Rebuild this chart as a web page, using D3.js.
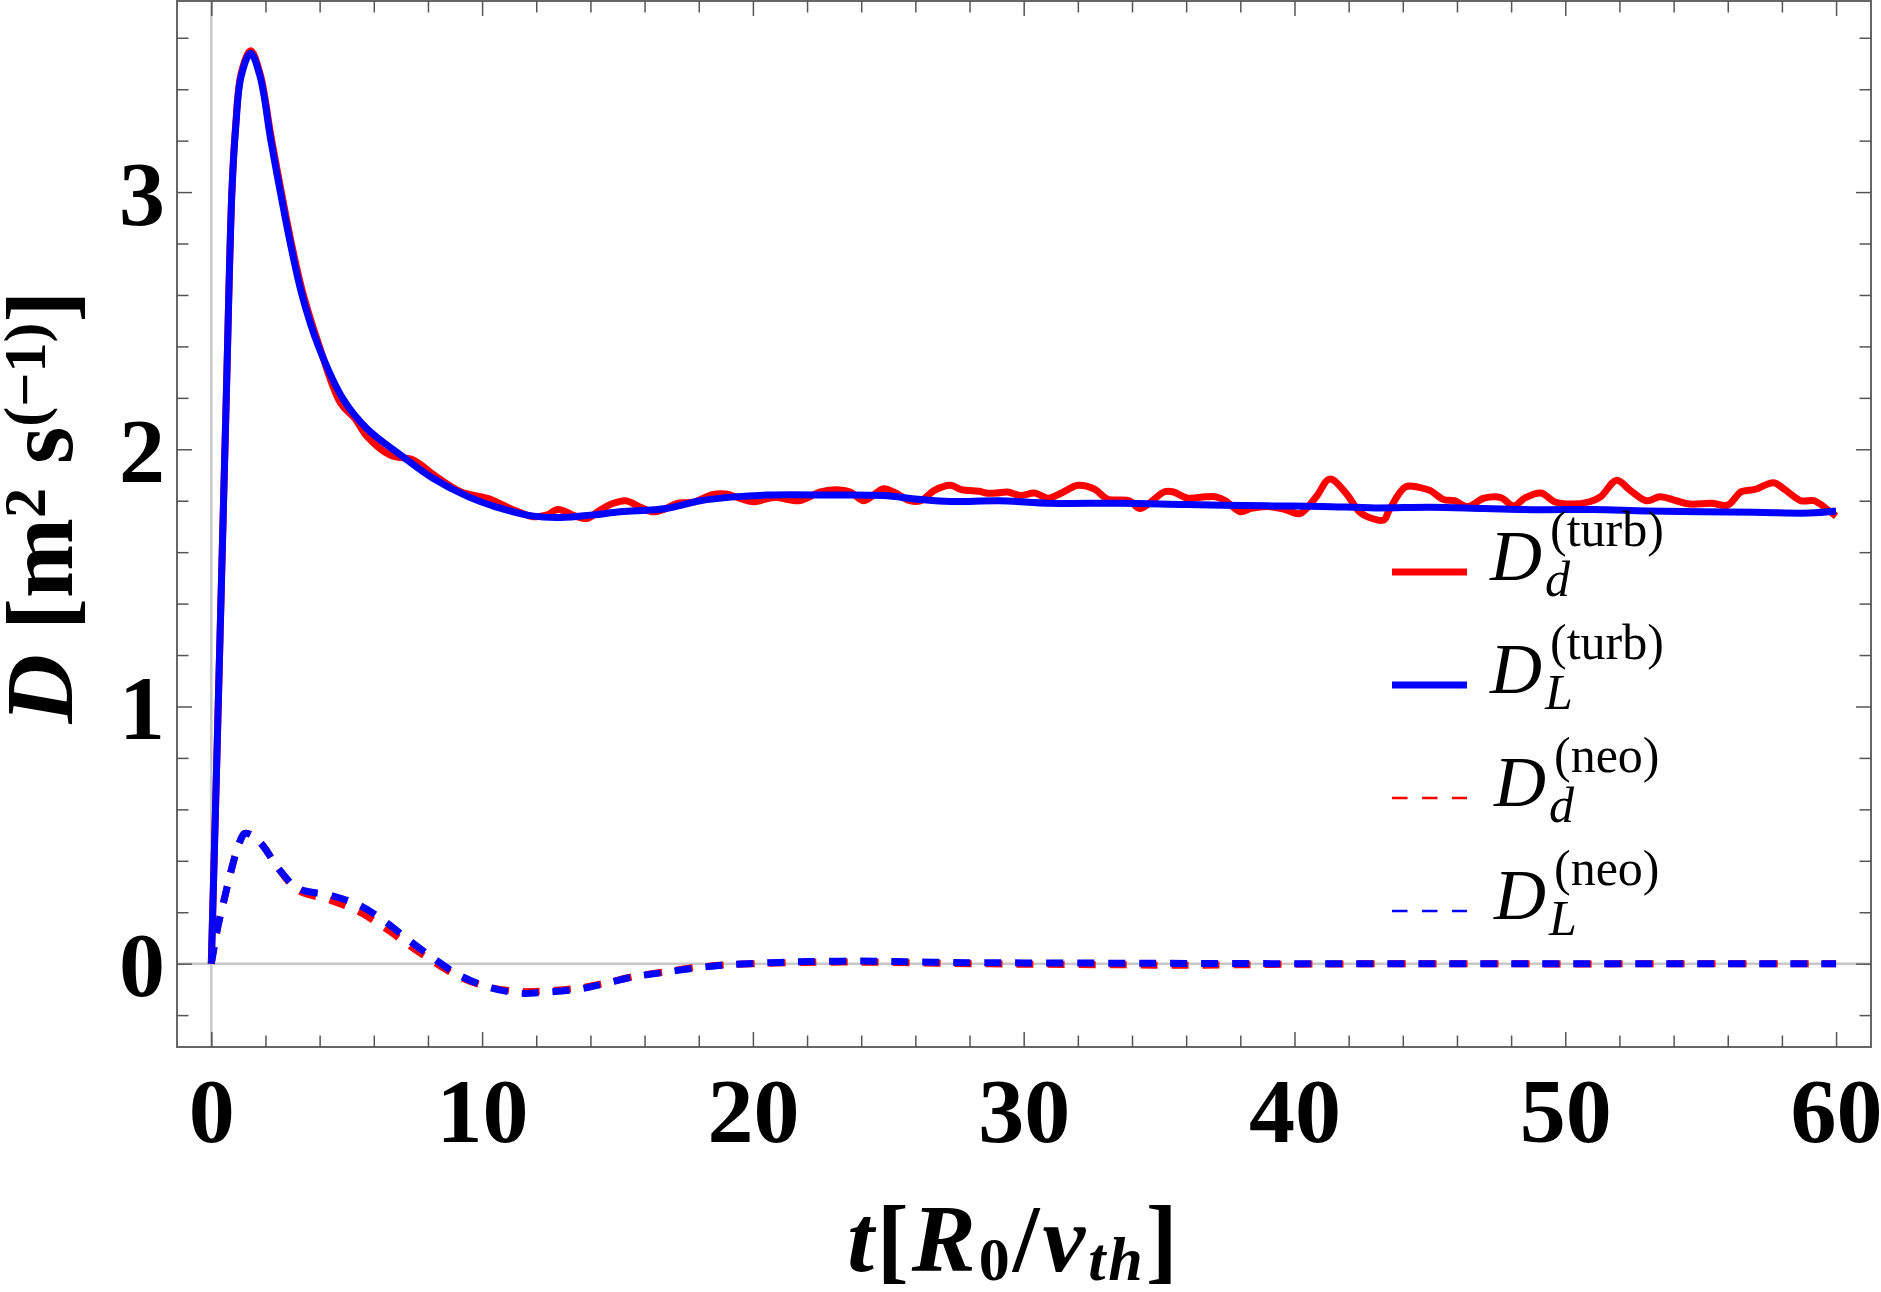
<!DOCTYPE html>
<html>
<head>
<meta charset="utf-8">
<script src="https://cdn.jsdelivr.net/npm/d3@7"></script>
<style>
  html, body { margin: 0; padding: 0; background: #fff; }
  svg { display: block; font-family: "Liberation Serif", "Times New Roman", serif; }
</style>
</head>
<body>
<svg id="chart" width="1881" height="1292"></svg>
<script>
// Turbulent diffusion D_L (blue, solid)
const tTurbL = [0, 0.2, 0.55, 0.76, 0.9, 1.1, 1.45, 1.8, 2.2, 2.55, 2.92, 3.35, 3.96, 4.9, 5.75, 7.0, 8.2,
    9.5, 10.7, 11.9, 12.9, 14.1, 15.1, 16.8, 18.05, 19.3, 20.5, 23.0, 24.8, 26.1, 27.3, 29.1, 31.0, 33.6,
    36, 39, 41, 43, 45, 47, 49, 51, 53, 55, 57, 59, 60];
const turbL = [0, 0.78, 2.19, 3.0, 3.25, 3.45, 3.54, 3.45, 3.2, 3.0, 2.8, 2.6, 2.4, 2.19, 2.08, 1.977, 1.886,
    1.815, 1.77, 1.74, 1.735, 1.745, 1.757, 1.77, 1.8, 1.815, 1.822, 1.822, 1.82, 1.806, 1.797, 1.8, 1.79, 1.79,
    1.785, 1.78, 1.778, 1.772, 1.775, 1.77, 1.765, 1.766, 1.76, 1.757, 1.755, 1.752, 1.76];

// Turbulent diffusion D_d (red, solid, noisy)
const tTurbD = [0, 0.2, 0.55, 0.76, 0.9, 1.1, 1.45, 1.8, 2.2, 2.55, 2.92, 3.35, 3.96, 4.77, 5.3, 5.75, 6.61,
    7.47, 8.22, 9.2, 10.2, 11.17, 11.9, 12.4, 12.8, 13.5, 13.9, 14.36, 14.85, 15.3, 15.8, 16.3, 16.8, 17.2,
    17.8, 18.5, 19.0, 19.5, 20.0, 20.8, 21.7, 22.5, 23.1, 23.6, 24.1, 24.8, 25.2, 25.8, 26.2, 26.7, 27.3,
    27.7, 28.4, 28.6, 29.0, 29.4, 29.9, 30.4, 30.9, 31.4, 32.0, 32.6, 33.1, 33.9, 34.3, 35.2, 35.5, 36.06,
    36.7, 37.1, 37.45, 38.0, 38.4, 39.1, 39.7, 40.2, 40.8, 41.3, 41.9, 42.4, 42.9, 43.3, 43.5, 44.1, 44.6,
    45.0, 45.5, 45.9, 46.4, 47.0, 47.6, 48.1, 48.5, 49.1, 49.6, 50.2, 50.9, 51.3, 51.9, 52.4, 53.0, 53.5,
    54.1, 54.6, 55.4, 56.0, 56.5, 57.0, 57.7, 58.1, 58.7, 59.2, 59.7, 60.0];
const turbD = [0, 0.78, 2.19, 3.0, 3.26, 3.46, 3.55, 3.46, 3.22, 3.02, 2.82, 2.62, 2.41, 2.18, 2.12, 2.05, 1.977,
    1.958, 1.9, 1.835, 1.809, 1.764, 1.738, 1.745, 1.766, 1.738, 1.732, 1.764, 1.79, 1.8, 1.777, 1.757, 1.77, 1.79,
    1.794, 1.824, 1.826, 1.81, 1.796, 1.813, 1.8, 1.834, 1.843, 1.834, 1.8, 1.846, 1.834, 1.8, 1.8, 1.84, 1.86,
    1.843, 1.836, 1.83, 1.83, 1.834, 1.82, 1.83, 1.81, 1.83, 1.86, 1.846, 1.806, 1.8, 1.77, 1.835, 1.835, 1.81,
    1.815, 1.815, 1.8, 1.757, 1.77, 1.777, 1.764, 1.75, 1.815, 1.884, 1.83, 1.757, 1.73, 1.725, 1.764, 1.854, 1.852,
    1.84, 1.805, 1.8, 1.777, 1.81, 1.813, 1.78, 1.81, 1.83, 1.796, 1.787, 1.796, 1.815, 1.88, 1.84, 1.8, 1.815,
    1.8, 1.787, 1.79, 1.783, 1.835, 1.844, 1.87, 1.844, 1.8, 1.8, 1.764, 1.74];

// Neoclassical diffusion (dashed)
const tNeo = [0, 0.24, 0.5, 0.77, 1.03, 1.23, 1.49, 1.89, 2.48, 3.21, 4.39, 5.45, 6.44, 7.3, 8.22, 9.14, 10.2,
    11.4, 12.3, 13.5, 14.55, 15.6, 16.65, 17.8, 19, 20.5, 22, 24, 26, 28, 30, 33, 36, 40, 45, 50, 55, 60];
const neoL = [0, 0.143, 0.26, 0.377, 0.468, 0.506, 0.5, 0.461, 0.37, 0.292, 0.266, 0.228, 0.162, 0.091, 0.02,
    -0.044, -0.09, -0.115, -0.111, -0.1, -0.077, -0.051, -0.035, -0.018, -0.005, 0.003, 0.008, 0.01, 0.007,
    0.004, 0.003, 0.002, 0.001, 0, 0, 0, 0, 0];
const neoD = [0, 0.143, 0.26, 0.377, 0.468, 0.506, 0.5, 0.461, 0.37, 0.285, 0.247, 0.202, 0.137, 0.072, 0.007,
    -0.05, -0.09, -0.108, -0.106, -0.096, -0.075, -0.05, -0.033, -0.016, -0.005, 0.001, 0.005, 0.006, 0.003,
    0, -0.002, -0.004, -0.006, -0.002, 0, -0.001, 0, 0];

// Axis ticks
const xMajorTicks = [0, 10, 20, 30, 40, 50, 60];
const yMajorTicks = [0, 1, 2, 3];

// Legend entries
const legendSubs = ["d", "L", "d", "L"];
const legendSups = ["(turb)", "(turb)", "(neo)", "(neo)"];

const red = "#ff0000";
const blue = "#0000ff";

const svg = d3.select("#chart");
const plot = { left: 177, right: 1871, top: 1, bottom: 1047 };

const x = d3.scaleLinear().domain([-1.267, 61.29]).range([plot.left, plot.right]);
const y = d3.scaleLinear().domain([-0.324, 3.743]).range([plot.bottom, plot.top]);

const xMinorTicks = d3.range(0, 61, 2).filter(v => !xMajorTicks.includes(v));
const yMinorTicks = d3.range(-0.2, 3.7, 0.2).map(v => +v.toFixed(1)).filter(v => !yMajorTicks.includes(v));

// Zero lines
svg.append("line")
    .attr("x1", plot.left).attr("x2", plot.right)
    .attr("y1", y(0)).attr("y2", y(0))
    .attr("stroke", "#c8c8c8").attr("stroke-width", 2.5);
svg.append("line")
    .attr("x1", x(0)).attr("x2", x(0))
    .attr("y1", plot.top).attr("y2", plot.bottom)
    .attr("stroke", "#c8c8c8").attr("stroke-width", 2.5);

// Draws one series
function drawSeries(ts, vs, color, dashed) {
    const pts = ts.map((t, i) => [t, vs[i]]);
    const line = d3.line()
        .x(d => x(d[0]))
        .y(d => y(d[1]))
        .curve(d3.curveCatmullRom.alpha(0.5));
    svg.append("path")
        .datum(pts)
        .attr("d", line)
        .attr("fill", "none")
        .attr("stroke", color)
        .attr("stroke-width", 7)
        .attr("stroke-linejoin", "round")
        .attr("stroke-dasharray", dashed ? "17,14" : null);
}

drawSeries(tTurbD, turbD, red, false);
drawSeries(tTurbL, turbL, blue, false);
drawSeries(tNeo, neoD, red, true);
drawSeries(tNeo, neoL, blue, true);

// Frame
svg.append("rect")
    .attr("x", plot.left).attr("y", plot.top)
    .attr("width", plot.right - plot.left).attr("height", plot.bottom - plot.top)
    .attr("fill", "none").attr("stroke", "#666").attr("stroke-width", 2);

// Inward ticks on all four sides
function addAxis(axis, tx, ty) {
    const g = svg.append("g").attr("transform", `translate(${tx},${ty})`).call(axis);
    g.select(".domain").remove();
    g.selectAll(".tick line").attr("stroke", "#555").attr("stroke-width", 1.5);
    return g;
}

addAxis(d3.axisBottom(x).tickValues(xMinorTicks).tickSize(-11.5).tickFormat(""), 0, plot.bottom);
addAxis(d3.axisTop(x).tickValues(xMinorTicks).tickSize(-11.5).tickFormat(""), 0, plot.top);
addAxis(d3.axisTop(x).tickValues(xMajorTicks).tickSize(-15).tickFormat(""), 0, plot.top);
addAxis(d3.axisLeft(y).tickValues(yMinorTicks).tickSize(-11.5).tickFormat(""), plot.left, 0);
addAxis(d3.axisRight(y).tickValues(yMinorTicks).tickSize(-11.5).tickFormat(""), plot.right, 0);
addAxis(d3.axisRight(y).tickValues(yMajorTicks).tickSize(-15).tickFormat(""), plot.right, 0);

const xAxis = addAxis(d3.axisBottom(x).tickValues(xMajorTicks).tickSize(-15).tickPadding(30)
    .tickFormat(d3.format("d")), 0, plot.bottom);
xAxis.selectAll(".tick text")
    .attr("font-family", "Liberation Serif, Times New Roman, serif")
    .attr("font-size", 92).attr("font-weight", "bold").attr("fill", "#000");

const yAxis = addAxis(d3.axisLeft(y).tickValues(yMajorTicks).tickSize(-15).tickPadding(12)
    .tickFormat(d3.format("d")), plot.left, 0);
yAxis.selectAll(".tick text")
    .attr("font-family", "Liberation Serif, Times New Roman, serif")
    .attr("font-size", 92).attr("font-weight", "bold").attr("fill", "#000")
    .attr("dy", 32);

// Axis titles
const xTitle = svg.append("text")
    .attr("x", 1014).attr("y", 1271)
    .attr("text-anchor", "middle")
    .attr("letter-spacing", 3)
    .attr("font-size", 96).attr("font-weight", "bold");
xTitle.append("tspan").attr("font-style", "italic").text("t");
xTitle.append("tspan").text("[");
xTitle.append("tspan").attr("font-style", "italic").text("R");
xTitle.append("tspan").attr("font-size", 62).attr("dy", 9).text("0");
xTitle.append("tspan").attr("dy", -9).text("/");
xTitle.append("tspan").attr("font-style", "italic").text("v");
xTitle.append("tspan").attr("font-style", "italic").attr("font-size", 62).attr("dy", 9).text("th");
xTitle.append("tspan").attr("dy", -9).text("]");

const yTitle = svg.append("text")
    .attr("transform", "translate(72,507) rotate(-90)")
    .attr("text-anchor", "middle")
    .attr("font-size", 96).attr("font-weight", "bold");
yTitle.append("tspan").attr("font-style", "italic").text("D");
yTitle.append("tspan").text("\u00a0[m");
yTitle.append("tspan").attr("font-size", 60).attr("dy", -27).text("2");
yTitle.append("tspan").attr("dy", 27).text("\u00a0s");
yTitle.append("tspan").attr("font-size", 60).attr("dy", -27).text("(\u22121)");
yTitle.append("tspan").attr("dy", 27).text("]");

// Legend
const legendColors = [red, blue, red, blue];
const legendDashed = [false, false, true, true];
const legendY = [572, 685, 798, 911];

legendSubs.forEach((sub, i) => {
    const ly = legendY[i];
    svg.append("line")
        .attr("x1", 1392).attr("x2", 1467)
        .attr("y1", ly).attr("y2", ly)
        .attr("stroke", legendColors[i])
        .attr("stroke-width", legendDashed[i] ? 2.5 : 7)
        .attr("stroke-dasharray", legendDashed[i] ? "15.5,14.5" : null);

    const tx = legendDashed[i] ? 1494 : 1490;
    const dText = svg.append("text")
        .attr("x", tx).attr("y", ly + 8)
        .attr("font-size", 72).attr("font-style", "italic")
        .text("D");
    const dw = dText.node().getComputedTextLength();

    svg.append("text")
        .attr("x", tx + dw + 8).attr("y", ly + 8 - 34)
        .attr("font-size", 50)
        .text(legendSups[i]);
    svg.append("text")
        .attr("x", tx + dw + 3).attr("y", ly + 8 + 16)
        .attr("font-size", 50).attr("font-style", "italic")
        .text(sub);
});
</script>
</body>
</html>
